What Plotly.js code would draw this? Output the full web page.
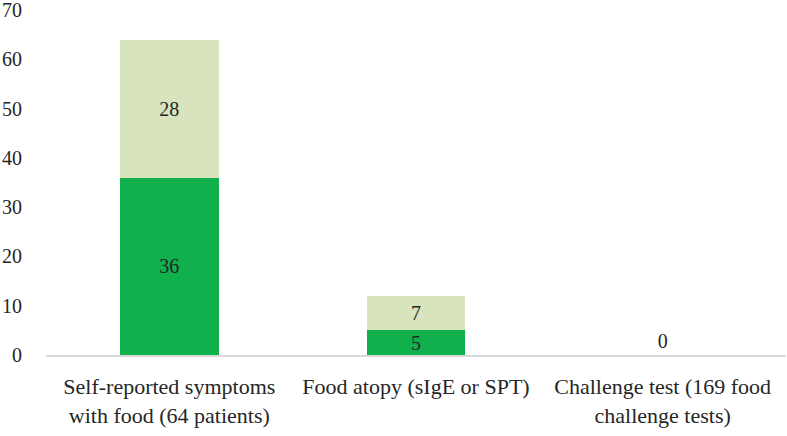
<!DOCTYPE html>
<html>
<head>
<meta charset="utf-8">
<script src="https://cdn.plot.ly/plotly-3.0.1.min.js"></script>
<style>
  body { margin: 0; background: #fff; }
  #chart { width: 787px; height: 436px; }
</style>
</head>
<body>
<div id="chart"></div>
<script>
// categories and stacked values
var categories = [
  "Self-reported symptoms<br>with food (64 patients)",
  "Food atopy (sIgE or SPT)",
  "Challenge test (169 food<br>challenge tests)"
];
var lowerValues = [36, 5, 0];
var upperValues = [28, 7, 0];
var yTicks = [0, 10, 20, 30, 40, 50, 60, 70];

var fontFamily = "Liberation Serif";
var textColor = "#262626";

var lower = {
  type: "bar",
  x: categories,
  y: lowerValues,
  marker: {color: "#10b04d"},
  text: lowerValues.map(function (v) { return v > 0 ? String(v) : ""; }),
  textposition: "inside",
  insidetextanchor: "middle",
  textangle: 0,
  constraintext: "none",
  textfont: {family: fontFamily, size: 20, color: textColor},
  hoverinfo: "none"
};

var upper = {
  type: "bar",
  x: categories,
  y: upperValues,
  marker: {color: "#d7e4bd"},
  text: upperValues.map(String),
  textposition: upperValues.map(function (v) { return v > 0 ? "inside" : "outside"; }),
  insidetextanchor: "middle",
  textangle: 0,
  constraintext: "none",
  textfont: {family: fontFamily, size: 20, color: textColor},
  cliponaxis: false,
  hoverinfo: "none"
};

var layout = {
  width: 787,
  height: 436,
  margin: {l: 46, r: 1, t: 10, b: 81},
  barmode: "stack",
  bargap: 0.6,
  showlegend: false,
  paper_bgcolor: "#fff",
  plot_bgcolor: "#fff",
  font: {family: fontFamily, size: 20, color: textColor},
  xaxis: {
    showline: true,
    linecolor: "#d9d9d9",
    linewidth: 1.5,
    ticks: "",
    showgrid: false,
    ticklabelstandoff: 11,
    tickfont: {family: fontFamily, size: 22, color: textColor}
  },
  yaxis: {
    range: [0, 70],
    tickvals: yTicks,
    showgrid: false,
    zeroline: false,
    showline: false,
    ticks: "",
    ticklabelstandoff: 23,
    ticklabeloverflow: "allow",
    tickfont: {family: fontFamily, size: 20, color: textColor}
  }
};

Plotly.newPlot("chart", [lower, upper], layout, {staticPlot: true});
</script>
</body>
</html>
